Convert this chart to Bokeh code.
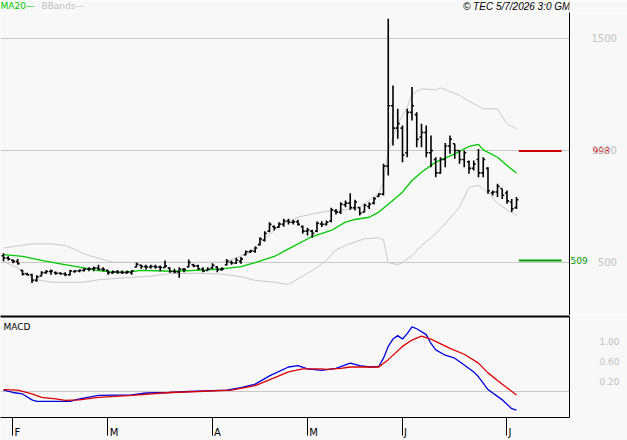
from bokeh.plotting import figure
from bokeh.layouts import column
from bokeh.models import Range1d, FixedTicker, LinearAxis, Label, PrintfTickFormatter
from bokeh.embed import file_html
from bokeh.resources import INLINE

# ---------------- data ----------------
# one entry per trading day, index 0 = last days of January
high = [541, 528, 513, 516, 467, 454, 450, 443, 461, 467,
        469, 460, 457, 457, 467, 467, 469, 476, 479, 482,
        490, 479, 467, 464, 467, 464, 464, 467, 500, 490,
        490, 490, 490, 487, 509, 479, 472, 479, 475, 513,
        494, 490, 479, 479, 497, 484, 479, 516, 509, 521,
        524, 554, 557, 571, 613, 640, 680, 665, 680, 695,
        695, 691, 691, 665, 655, 646, 683, 684, 687, 744,
        739, 769, 777, 809, 780, 747, 762, 769, 792, 809,
        941, 1588, 1290, 1186, 1112, 1186, 1283, 1171, 1119, 1112,
        1067, 970, 970, 1033, 1067, 1030, 1000, 1000, 955, 955,
        1007, 970, 925, 821, 851, 829, 821, 784, 792]
low = [506, 509, 497, 491, 442, 442, 409, 414, 439, 450,
       445, 445, 445, 439, 442, 454, 457, 460, 461, 461,
       464, 461, 445, 450, 450, 450, 450, 445, 479, 472,
       469, 472, 472, 461, 475, 454, 452, 432, 457, 479,
       479, 467, 457, 464, 472, 457, 464, 487, 490, 494,
       494, 531, 542, 543, 576, 594, 635, 643, 655, 660,
       670, 670, 665, 628, 620, 610, 635, 658, 665, 680,
       714, 717, 747, 735, 732, 710, 725, 739, 759, 792,
       799, 888, 1022, 1052, 948, 970, 1134, 1015, 1015, 970,
       925, 881, 896, 925, 985, 963, 941, 925, 896, 911,
       881, 881, 807, 799, 792, 784, 762, 725, 739]
open_ = [530, 520, 510, 505, 465, 450, 445, 420, 440, 455,
         460, 455, 452, 450, 445, 460, 462, 465, 470, 472,
         475, 470, 465, 455, 458, 456, 455, 455, 480, 488,
         482, 480, 482, 480, 478, 475, 460, 458, 470, 480,
         490, 485, 470, 465, 475, 480, 468, 490, 500, 498,
         505, 535, 548, 550, 580, 600, 640, 660, 658, 670,
         685, 680, 682, 660, 640, 640, 640, 672, 670, 685,
         730, 725, 758, 765, 745, 745, 725, 750, 765, 795,
         805, 930, 1200, 1100, 1100, 990, 1170, 1160, 1060, 1080,
         990, 960, 900, 960, 1020, 1030, 1000, 960, 950, 920,
         960, 900, 920, 810, 815, 830, 810, 770, 745]
close = [520, 515, 505, 495, 448, 445, 420, 435, 455, 460,
         462, 452, 450, 445, 462, 462, 465, 470, 472, 475,
         470, 468, 455, 458, 456, 455, 458, 462, 492, 482,
         480, 482, 480, 478, 485, 460, 458, 470, 468, 500,
         485, 472, 462, 470, 488, 468, 472, 505, 498, 510,
         515, 548, 552, 565, 605, 630, 670, 655, 672, 685,
         680, 682, 670, 640, 645, 630, 675, 670, 680, 735,
         725, 760, 765, 745, 770, 720, 755, 760, 785, 805,
         930, 1200, 1100, 1120, 980, 1170, 1200, 1050, 1080, 990,
         1000, 900, 960, 1020, 1050, 1000, 960, 990, 920, 940,
         900, 960, 820, 815, 840, 800, 775, 740, 780]

# indicator curves, read at sampled trading days
ma20_day = [0, 4, 8, 12, 16, 20, 23, 26, 29, 36, 43, 46, 50, 53, 57, 60, 65, 69, 72, 74,
            77, 79, 81, 84, 86, 88, 91, 95, 98, 100, 101, 104, 106, 108]
ma20_val = [535, 527, 509, 494, 479, 464, 457, 457, 465, 461, 467, 472, 482, 499, 527, 561, 616, 643, 680, 692,
            702, 725, 760, 814, 866, 903, 948, 985, 1018, 1027, 1003, 970, 933, 899]

bb_up_day = [0, 6, 10, 13, 18, 23, 27, 43, 46, 48, 52, 54, 57, 58, 62, 65, 69, 72, 75, 77,
             79, 80, 81, 83, 85, 86, 88, 91, 92, 96, 98, 101, 104, 106, 108]
bb_up_val = [565, 583, 583, 576, 531, 501, 501, 501, 501, 512, 546, 591, 643, 665, 702, 717, 732, 735, 747, 777,
             807, 860, 1000, 1119, 1193, 1253, 1275, 1271, 1280, 1246, 1220, 1186, 1186, 1119, 1097]

bb_lo_day = [0, 4, 6, 10, 17, 20, 27, 31, 35, 41, 46, 50, 53, 57, 60, 62, 65, 68, 70, 72,
             76, 79, 80, 81, 83, 84, 86, 88, 90, 92, 96, 98, 100, 102, 104, 106, 108]
bb_lo_val = [506, 464, 427, 412, 412, 423, 434, 439, 450, 452, 448, 437, 420, 412, 402, 427, 464, 509, 557, 576,
             606, 610, 600, 500, 490, 500, 531, 576, 609, 650, 747, 836, 844, 814, 765, 735, 710]

macd_day = [0, 2, 4, 6, 7, 14, 16, 20, 27, 30, 35, 39, 44, 47, 50, 53, 56, 60, 62, 64,
            67, 70, 73, 75, 77, 79, 80, 81, 82, 83, 84, 85, 86, 87, 89, 90, 91, 93, 95, 97,
            99, 100, 102, 105, 107, 108]
macd_val = [0.02, -0.03, -0.06, -0.18, -0.21, -0.21, -0.16, -0.09, -0.08, -0.04,
            -0.03, -0.01, 0.01, 0.02, 0.07, 0.14, 0.31, 0.49, 0.52, 0.45,
            0.42, 0.46, 0.57, 0.52, 0.49, 0.50, 0.67, 0.91, 1.06, 1.13,
            1.06, 1.17, 1.31, 1.27, 1.15, 0.97, 0.84, 0.73, 0.67, 0.53,
            0.39, 0.29, 0.03, -0.18, -0.36, -0.39]

sig_day = [0, 3, 6, 8, 11, 13, 16, 20, 27, 35, 41, 48, 53, 57, 60, 63, 67, 68, 71, 73,
           79, 81, 84, 86, 88, 90, 94, 97, 100, 102, 105, 108]
sig_val = [0.03, 0.02, -0.06, -0.13, -0.16, -0.19, -0.18, -0.13, -0.09, -0.03,
           -0.01, 0.02, 0.11, 0.27, 0.39, 0.45, 0.45, 0.44, 0.46, 0.49,
           0.49, 0.64, 0.91, 1.04, 1.12, 1.06, 0.87, 0.75, 0.57, 0.37,
           0.14, -0.08]

month_tick_day = [2, 22, 44, 64, 84, 106]
month_tick_label = ["F", "M", "A", "M", "J", "J"]
price_ticks = [500, 1000, 1500]
macd_ticks = [0.2, 0.6, 1.0]
level_hi = 998
level_lo = 509

# ---------------- styling ----------------
BG = "#f8f8f8"
GRID = "#c8c8c8"
GREEN = "#00c800"
BAND = "#c8c8c8"
AXIS_TXT = "#c0c0c0"
RED_LVL = "#cc0000"
GREEN_LVL = "#00a000"
FONT = "DejaVu Sans"
TICK = 0.42
# small leading spaces so each month letter sits just right of its tick
pad = {"F": "\u2002\u2009\u2009", "M": "\u2003\u2009", "A": "\u2003", "J": "\u2002\u200a"}

N = len(close)
day = list(range(N))

x_range = Range1d(-0.63, 119.16)


def bare_axis(axis):
    axis.major_tick_out = 0
    axis.major_tick_in = 0
    axis.minor_tick_out = 0
    axis.minor_tick_in = 0
    axis.major_label_text_font = FONT


# ---------------- header strip ----------------
HEAD_H = 12
h = figure(width=627, height=HEAD_H, x_range=Range1d(0, 627), y_range=Range1d(0, HEAD_H),
           output_backend="svg", toolbar_location=None, title=None,
           x_axis_location=None, y_axis_location=None, min_border=0,
           background_fill_color=BG, border_fill_color=BG, outline_line_color=None)
h.grid.visible = False
h.add_layout(Label(x=0, y=HEAD_H, x_units="screen", y_units="screen", text="MA20\u2014",
                   text_color=GREEN, text_font=FONT, text_font_size="9px", text_baseline="top"))
h.add_layout(Label(x=41, y=HEAD_H, x_units="screen", y_units="screen", text="BBands\u2014",
                   text_color=AXIS_TXT, text_font=FONT, text_font_size="9px", text_baseline="top"))
h.add_layout(Label(x=576, y=HEAD_H, x_units="screen", y_units="screen",
                   text="\u00a9 TEC 5/7/2026 3:0 GMT", text_color="black",
                   text_font="Liberation Sans", text_font_style="italic",
                   text_font_size="10px", text_baseline="top", text_align="right"))

# ---------------- price panel ----------------
p = figure(width=627, height=315 - HEAD_H, x_range=x_range, y_range=Range1d(263.4, 1616),
           output_backend="svg", toolbar_location=None, title=None,
           x_axis_location=None, y_axis_location="right",
           min_border_left=0, min_border_right=58, min_border_top=0, min_border_bottom=0,
           background_fill_color=BG, border_fill_color=BG, outline_line_color=None)
p.xgrid.visible = False
p.ygrid.ticker = FixedTicker(ticks=price_ticks)
p.ygrid.grid_line_color = GRID

# axis next to the frame: black line + green support level label
ax_lo = p.yaxis[0]
bare_axis(ax_lo)
ax_lo.ticker = FixedTicker(ticks=[level_lo])
ax_lo.axis_line_color = "black"
ax_lo.major_label_standoff = 1
ax_lo.major_label_text_color = "#009900"
ax_lo.major_label_text_font_size = "9px"

# red resistance level label
ax_hi = LinearAxis(ticker=FixedTicker(ticks=[level_hi]), axis_line_color=None,
                   major_label_standoff=2, major_label_text_color=RED_LVL,
                   major_label_text_font_size="9px")
bare_axis(ax_hi)
p.add_layout(ax_hi, "right")

# gray price scale, drawn back over the same column as the level label
ax_pr = LinearAxis(ticker=FixedTicker(ticks=price_ticks), axis_line_color=None,
                   major_label_standoff=-21, major_label_text_color=AXIS_TXT,
                   major_label_text_font_size="10px",
                   major_label_overrides={t: str(t).rjust(4).replace(" ", "\u2007") for t in price_ticks})
bare_axis(ax_pr)
p.add_layout(ax_pr, "right")

p.line(bb_up_day, bb_up_val, line_color=BAND, line_width=1)
p.line(bb_lo_day, bb_lo_val, line_color=BAND, line_width=1)
p.line(ma20_day, ma20_val, line_color=GREEN, line_width=1.3)

p.segment(day, low, day, high, line_color="black", line_width=1.6)
p.segment([d - TICK for d in day], open_, day, open_, line_color="black", line_width=1.6)
p.segment(day, close, [d + TICK for d in day], close, line_color="black", line_width=1.6)

p.segment([N - 0.5, N - 0.5], [level_hi, level_lo], [N + 8.5, N + 8.5], [level_hi, level_lo],
          line_color=[RED_LVL, GREEN_LVL], line_width=2)

# ---------------- MACD panel ----------------
q = figure(width=627, height=125, x_range=x_range, y_range=Range1d(-0.54, 1.52),
           output_backend="svg", toolbar_location=None, title=None,
           x_axis_location="below", y_axis_location="right",
           min_border_left=0, min_border_right=58, min_border_top=1, min_border_bottom=21,
           background_fill_color=BG, border_fill_color=BG, outline_line_color=None)
q.xgrid.visible = False
q.ygrid.ticker = FixedTicker(ticks=[0])
q.ygrid.grid_line_color = GRID

yax = q.yaxis[0]
bare_axis(yax)
yax.ticker = FixedTicker(ticks=macd_ticks)
yax.formatter = PrintfTickFormatter(format="%.2f")
yax.axis_line_color = "black"
yax.major_label_standoff = 30
yax.major_label_text_color = AXIS_TXT
yax.major_label_text_font_size = "9px"

xax = q.xaxis[0]
xax.ticker = FixedTicker(ticks=month_tick_day)
xax.major_label_overrides = {d: pad[m] + m for d, m in zip(month_tick_day, month_tick_label)}
xax.axis_line_color = "black"
xax.major_tick_line_color = "black"
xax.major_tick_out = 18
xax.major_tick_in = 0
xax.minor_tick_out = 0
xax.minor_tick_in = 0
xax.major_label_standoff = -9
xax.major_label_text_color = "black"
xax.major_label_text_font = FONT
xax.major_label_text_font_size = "10px"

top = LinearAxis(ticker=FixedTicker(ticks=[]), axis_line_color="black", axis_line_width=2,
                 major_label_text_font_size="0px", major_label_standoff=0)
bare_axis(top)
q.add_layout(top, "above")

q.line(macd_day, macd_val, line_color="#0000dd", line_width=1.3)
q.line(sig_day, sig_val, line_color="#dd0000", line_width=1.3)

q.add_layout(Label(x=3, y=96, x_units="screen", y_units="screen", text="MACD",
                   text_color="black", text_font=FONT, text_font_size="9px", text_baseline="top"))

layout = column(h, p, q, spacing=0)
open("out.html", "w").write(file_html(layout, INLINE))
